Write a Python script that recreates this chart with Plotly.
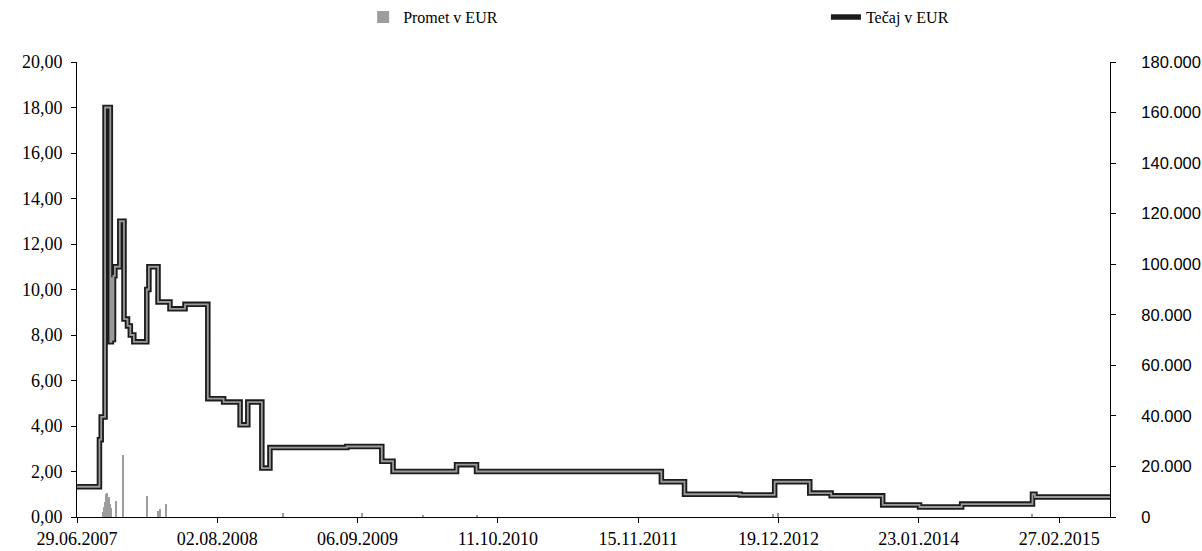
import plotly.graph_objects as go

# Tečaj v EUR (price, step line, left axis)
price_dates = [
    "2007-06-29", "2007-09-01", "2007-09-06", "2007-09-17", "2007-10-02",
    "2007-10-05", "2007-10-08", "2007-10-11", "2007-10-15", "2007-10-29",
    "2007-11-10", "2007-11-20", "2007-11-28", "2007-12-08", "2008-01-14",
    "2008-01-20", "2008-02-15", "2008-03-20", "2008-05-02", "2008-07-06",
    "2008-08-20", "2008-10-06", "2008-10-28", "2008-12-07", "2008-12-30",
    "2009-08-06", "2009-11-14", "2009-12-16", "2010-06-15", "2010-08-11",
    "2012-01-20", "2012-03-26", "2012-09-01", "2012-12-08", "2013-03-18",
    "2013-05-18", "2013-10-12", "2014-01-25", "2014-05-25", "2014-12-13",
    "2014-12-20", "2015-07-22",
]
price_values = [
    1.33, 3.4, 4.4, 18.0, 7.7,
    10.5, 7.8, 10.6, 11.0, 13.0,
    8.7, 8.4, 8.0, 7.7, 10.0,
    11.0, 9.45, 9.15, 9.35, 5.2,
    5.05, 4.05, 5.05, 2.15, 3.05,
    3.1, 2.45, 2.0, 2.3, 2.0,
    1.55, 1.0, 0.97, 1.55, 1.05,
    0.93, 0.53, 0.44, 0.57, 1.0,
    0.88, 0.88,
]

# Promet v EUR (turnover, bars, right axis)
turnover_dates = [
    "2007-09-12", "2007-09-14", "2007-09-17", "2007-09-19", "2007-09-21",
    "2007-09-24", "2007-09-26", "2007-09-28", "2007-10-01", "2007-10-03",
    "2007-10-05", "2007-10-18", "2007-11-07", "2008-01-14", "2008-02-15",
    "2008-02-22", "2008-03-09", "2009-02-05", "2009-09-18", "2010-03-11",
    "2010-08-12", "2012-12-04", "2012-12-18", "2014-12-13",
]
turnover_values = [
    2000, 4000, 6000, 9000, 8500,
    9500, 7000, 8000, 5000, 3500,
    2000, 6500, 24500, 8500, 2500,
    3000, 5000, 1500, 1500, 800,
    800, 1200, 1500, 1000,
]

left_ticks = [0, 2, 4, 6, 8, 10, 12, 14, 16, 18, 20]
right_ticks = [0, 20000, 40000, 60000, 80000, 100000, 120000, 140000, 160000, 180000]

serif = "Liberation Serif"
sans = "Liberation Sans"

fig = go.Figure()

fig.add_trace(go.Bar(
    x=turnover_dates, y=turnover_values, name="Promet v EUR",
    marker=dict(color="#9d9d9d", line=dict(width=0)),
    width=3 * 86400000, yaxis="y", legend="legend",
))
fig.add_trace(go.Scatter(
    x=price_dates, y=price_values, name="Tečaj v EUR", mode="lines",
    line=dict(color="#1c1c1c", width=5.5, shape="hv"), yaxis="y2", legend="legend2",
))
fig.add_trace(go.Scatter(
    x=price_dates, y=price_values, name="Tečaj v EUR", mode="lines",
    line=dict(color="#9a9a9a", width=1.8, shape="hv"), yaxis="y2",
    showlegend=False, hoverinfo="skip", legend="legend2",
))

legend_style = dict(
    orientation="h", yref="paper", y=1.136, yanchor="top",
    xanchor="left", font=dict(family=serif, size=16, color="black"),
    bgcolor="rgba(0,0,0,0)",
)

fig.update_layout(
    width=1202, height=551,
    margin=dict(l=77, r=92, t=62, b=34, autoexpand=False),
    paper_bgcolor="white", plot_bgcolor="white",
    separators=",.",
    bargap=0,
    showlegend=True,
    legend=dict(x=0.277, **legend_style),
    legend2=dict(x=0.725, **legend_style),
    xaxis=dict(
        type="date", range=["2007-06-29", "2015-07-22"],
        tick0="2007-06-29", dtick=400 * 86400000, tickformat="%d.%m.%Y",
        showgrid=False, zeroline=False, showline=True, linecolor="black", linewidth=1,
        ticks="outside", ticklen=5, tickcolor="black",
        tickfont=dict(family=serif, size=18, color="black"),
        automargin=False,
    ),
    yaxis=dict(
        side="right", range=[0, 180000], tickvals=right_ticks, tickformat=",.0f",
        showgrid=False, zeroline=False, showline=True, linecolor="black", linewidth=1,
        ticks="outside", ticklen=5, tickcolor="black", ticklabelstandoff=22,
        tickfont=dict(family=sans, size=16.5, color="black"),
        automargin=False,
    ),
    yaxis2=dict(
        side="left", overlaying="y", range=[0, 20], tickvals=left_ticks, tickformat=".2f",
        showgrid=False, zeroline=False, showline=True, linecolor="black", linewidth=1,
        ticks="outside", ticklen=5, tickcolor="black", ticklabelstandoff=5,
        tickfont=dict(family=serif, size=18, color="black"),
        automargin=False,
    ),
)

# remove the browser's default 8px body margin so the figure fills the window
fig.write_html(
    "out.html",
    config={"displayModeBar": False},
    post_script="document.body.style.margin='0';document.body.style.overflow='hidden';",
)
